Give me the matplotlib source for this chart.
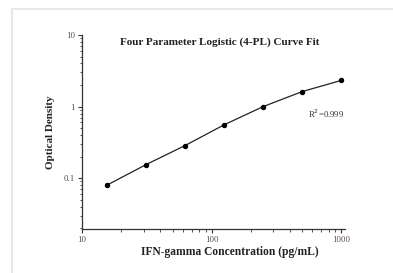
"""
IFN-gamma standard curve - 4-PL fit, log-log axes
"""
import matplotlib
matplotlib.use('Agg')
import matplotlib.pyplot as plt
from matplotlib.lines import Line2D
from matplotlib.ticker import FixedLocator, LogLocator, NullFormatter

# Standard curve data
conc = [15.6, 31.25, 62.5, 125, 250, 500, 1000]          # pg/mL
od = [0.080, 0.155, 0.286, 0.557, 1.00, 1.62, 2.32]       # optical density
x_ticks = [10, 100, 1000]
x_tick_labels = ['10', '100', '1000']
y_ticks = [0.1, 1, 10]
y_tick_labels = ['0.1', '1', '10']

plt.rcParams['font.family'] = ['Liberation Serif', 'DejaVu Serif']

fig = plt.figure(figsize=(3.93, 2.73), dpi=100)
ax = fig.add_axes([82 / 393, 1 - 229 / 273, 263 / 393, 194 / 273])

ax.plot(conc, od, color='#222222', linewidth=0.9, marker='o',
        markersize=2.9, markerfacecolor='black', markeredgecolor='black')

ax.set_xscale('log')
ax.set_yscale('log')
ax.set_xlim(10, 1070)
ax.set_ylim(0.0195, 10)

ax.xaxis.set_major_locator(FixedLocator(x_ticks))
ax.set_xticklabels(x_tick_labels)
ax.yaxis.set_major_locator(FixedLocator(y_ticks))
ax.set_yticklabels(y_tick_labels)
ax.xaxis.set_minor_locator(LogLocator(base=10, subs=range(2, 10)))
ax.yaxis.set_minor_locator(LogLocator(base=10, subs=range(2, 10)))
ax.xaxis.set_minor_formatter(NullFormatter())
ax.yaxis.set_minor_formatter(NullFormatter())

ax.spines[['top', 'right']].set_visible(False)
ax.spines[['left', 'bottom']].set_color('#333333')
ax.spines[['left', 'bottom']].set_linewidth(0.9)
ax.tick_params(which='major', length=3, width=0.8, color='#333333',
               labelsize=6.3, labelcolor='#5a4a55', pad=2)
ax.tick_params(which='minor', length=1.8, width=0.6, color='#333333')

ax.set_title('Four Parameter Logistic (4-PL) Curve Fit', fontsize=8,
             fontweight='bold', color='#222222', x=0.525, y=0.905)
ax.set_xlabel('IFN-gamma Concentration (pg/mL)', fontsize=8.3,
              fontweight='bold', color='#222222', labelpad=2)
ax.xaxis.set_label_coords(0.563, -0.09)
ax.set_ylabel('Optical Density', fontsize=8, fontweight='bold',
              color='#222222', labelpad=6)
ax.text(760, 0.8, r'R$^2$=0.999', fontsize=6.3, color='#333333',
        ha='center', va='center', family='Liberation Serif')

# light frame of the screenshot
fig.add_artist(Line2D([12 / 393, 12 / 393], [0, 1 - 9 / 273],
                      transform=fig.transFigure, color='#e8e8e8', lw=1.5))
fig.add_artist(Line2D([12 / 393, 1], [1 - 9 / 273, 1 - 9 / 273],
                      transform=fig.transFigure, color='#e8e8e8', lw=1.5))

fig.savefig('out.png', dpi=100, facecolor='white')
